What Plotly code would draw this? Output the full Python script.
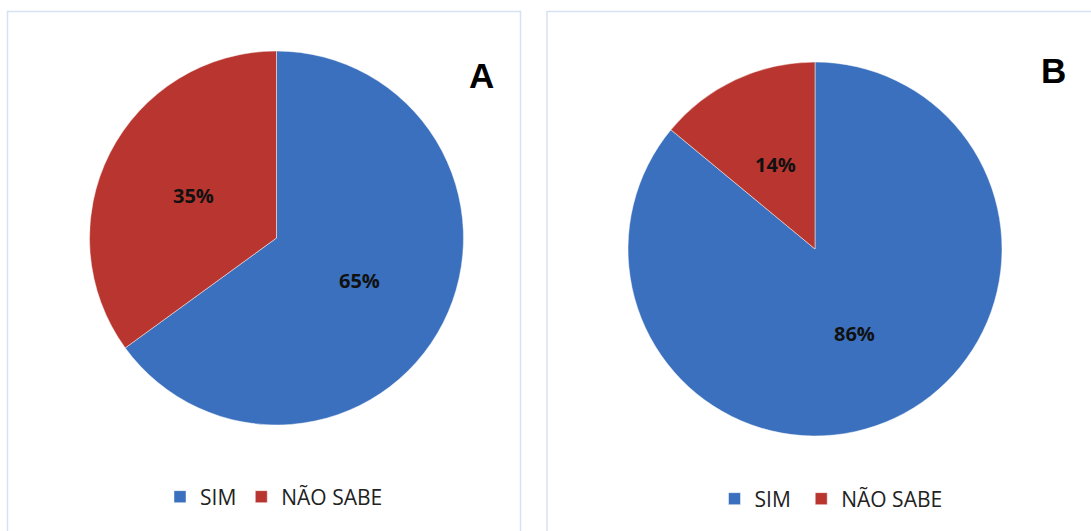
import math
import plotly.graph_objects as go

W, H = 1091, 531

labels_a = ["SIM", "NÃO SABE"]
labels_b = ["SIM ", "NÃO SABE "]  # trailing space keeps the second legend separate
values_a = [65, 35]
values_b = [86, 14]
colors = ["#3a70bd", "#b8362f"]

# pie geometry in pixels (center x, center y from top, radius)
pies = [
    dict(cx=276.5, cy=238.0, r=187.0, labels=labels_a, vals=values_a, title="A", tx=481, ty=75,
         legend="legend", lx=274, ly=497),
    dict(cx=815.0, cy=249.0, r=187.0, labels=labels_b, vals=values_b, title="B", tx=1053, ty=70,
         legend="legend2", lx=834, ly=499),
]

fig = go.Figure()
annotations = []

for p in pies:
    x0 = (p["cx"] - p["r"]) / W
    x1 = (p["cx"] + p["r"]) / W
    y0 = (H - (p["cy"] + p["r"])) / H
    y1 = (H - (p["cy"] - p["r"])) / H
    fig.add_trace(go.Pie(
        labels=p["labels"],
        values=p["vals"],
        sort=False,
        direction="clockwise",
        rotation=0,
        marker=dict(colors=colors, line=dict(color="rgba(255,255,255,0.6)", width=0.8)),
        textinfo="none",
        hoverinfo="label+percent",
        domain=dict(x=[x0, x1], y=[y0, y1]),
        legend=p["legend"],
        showlegend=True,
    ))
    total = sum(p["vals"])
    start = 0.0
    for v in p["vals"]:
        frac = v / total
        mid = (start + frac / 2) * 2 * math.pi
        start += frac
        px = p["cx"] + 0.5 * p["r"] * math.sin(mid)
        py = p["cy"] - 0.5 * p["r"] * math.cos(mid)
        annotations.append(dict(
            x=px / W, y=(H - py) / H, xref="paper", yref="paper",
            text="<b>%d%%</b>" % round(frac * 100), showarrow=False,
            font=dict(family="Open Sans", size=20, color="#111111"),
            xanchor="center", yanchor="middle",
        ))
    annotations.append(dict(
        x=p["tx"] / W, y=(H - p["ty"]) / H, xref="paper", yref="paper",
        text="<b>%s</b>" % p["title"], showarrow=False,
        font=dict(family="Liberation Sans", size=35, color="#000000"),
        xanchor="center", yanchor="middle",
    ))

border = "#d6e2f2"
shapes = [
    dict(type="rect", xref="paper", yref="paper", x0=7.5 / W, x1=520.5 / W, y0=-0.02, y1=(H - 11.5) / H,
         line=dict(color=border, width=1.5), fillcolor="rgba(0,0,0,0)", layer="below"),
    dict(type="rect", xref="paper", yref="paper", x0=547 / W, x1=1.02, y0=-0.02, y1=(H - 11.5) / H,
         line=dict(color=border, width=1.5), fillcolor="rgba(0,0,0,0)", layer="below"),
]

legend_common = dict(
    orientation="h", xanchor="center", yanchor="middle",
    font=dict(family="Open Sans", size=21, color="#222222"),
    bgcolor="rgba(0,0,0,0)", itemwidth=30, traceorder="normal",
)

fig.update_layout(
    width=W, height=H,
    margin=dict(l=0, r=0, t=0, b=0),
    paper_bgcolor="white",
    plot_bgcolor="white",
    annotations=annotations,
    shapes=shapes,
    legend=dict(x=pies[0]["lx"] / W, y=(H - pies[0]["ly"]) / H, **legend_common),
    legend2=dict(x=pies[1]["lx"] / W, y=(H - pies[1]["ly"]) / H, **legend_common),
)

fig.write_html("out.html")
